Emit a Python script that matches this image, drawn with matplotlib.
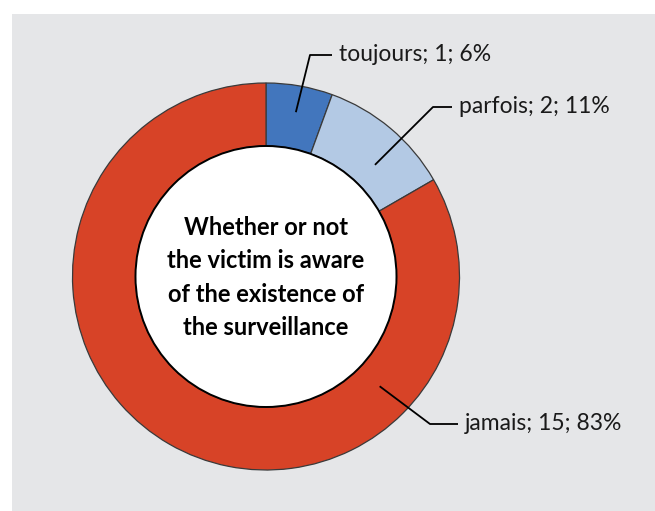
import numpy as np
import matplotlib
matplotlib.use("Agg")
from matplotlib import pyplot as plt
from matplotlib.patches import Rectangle, Circle

# data
labels = ["toujours", "parfois", "jamais"]
values = [1, 2, 15]
colors = ["#4276bd", "#b3c9e4", "#d74327"]
center_title = "Whether or not\nthe victim is aware\nof the existence of\nthe surveillance"

# layout (pixel units, y measured from the bottom)
W, H = 655, 511
cx, cy = 266, H - 276.5
r_out, r_in = 193.5, 130.5
# where each leader line starts: angle clockwise from top (deg), radius
anchor_ang = [10.3, 44.3, 134.0]
anchor_r = [167, 156, 158]
# elbow of each leader line and the text start
elbows = [(310, H - 55), (433, H - 107), (430, H - 424)]
line_len = [22, 19, 28]
text_gap = 7

plt.rcParams["font.family"] = ["Lato", "DejaVu Sans"]

fig = plt.figure(figsize=(W / 100, H / 100), dpi=100)
fig.patch.set_facecolor("white")
ax = fig.add_axes([0, 0, 1, 1])

ax.add_patch(Rectangle((12, 0), W - 12, H - 14, facecolor="#e5e6e8",
                       edgecolor="none", zorder=0))

wedges, _ = ax.pie(values, colors=colors, startangle=90, counterclock=False,
                   radius=r_out, center=(cx, cy), frame=True,
                   wedgeprops=dict(width=r_out - r_in, edgecolor="#3a3a3a",
                                   linewidth=0.9))
ax.set_xlim(0, W)
ax.set_ylim(0, H)
ax.set_aspect("equal")
ax.axis("off")
ax.add_patch(Circle((cx, cy), r_in, facecolor="white", edgecolor="black",
                    linewidth=1.4, zorder=3))

ax.text(cx, cy - 1, center_title, ha="center", va="center", fontsize=17,
        fontweight="bold", linespacing=1.53, zorder=4)

total = sum(values)
for i, (lab, v) in enumerate(zip(labels, values)):
    a = np.radians(90 - anchor_ang[i])
    x0 = cx + anchor_r[i] * np.cos(a)
    y0 = cy + anchor_r[i] * np.sin(a)
    ex, ey = elbows[i]
    ax.plot([x0, ex, ex + line_len[i]], [y0, ey, ey], color="black",
            linewidth=1.3, zorder=5, solid_capstyle="butt")
    pct = round(100 * v / total)
    ax.text(ex + line_len[i] + text_gap, ey + 1, f"{lab}; {v}; {pct}%",
            ha="left", va="center", fontsize=16.5, color="#1a1a1a", zorder=5)

fig.savefig("out.png", dpi=100)
